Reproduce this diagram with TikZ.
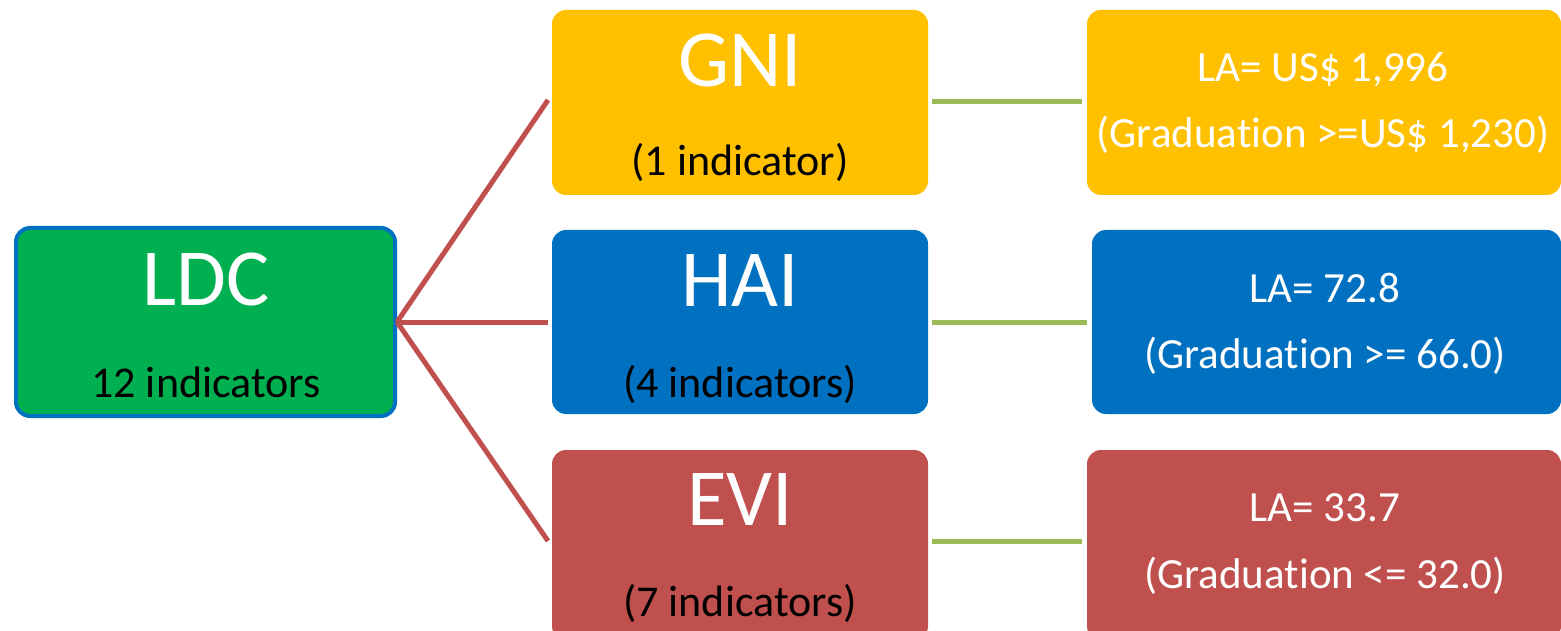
\documentclass[tikz,border=0pt]{standalone}
\usepackage{fontspec}
\setmainfont{Carlito}[Ligatures=NoCommon]
\newcommand{\grad}{Gradua\kern0pt t\kern0pt ion}
\definecolor{cyel}{HTML}{FFC000}
\definecolor{cblu}{HTML}{0070C0}
\definecolor{cred}{HTML}{C0504D}
\definecolor{cgrn}{HTML}{00B050}
\definecolor{cline}{HTML}{9BBB59}
\tikzset{
  box/.style={rounded corners=14pt, inner sep=0pt},
  big/.style={anchor=base, text=white, font=\fontsize{81}{90}\selectfont, inner sep=0pt},
  small/.style={anchor=base, text=black, font=\fontsize{44}{50}\selectfont, inner sep=0pt},
  val/.style={anchor=base, text=white, font=\fontsize{43}{50}\selectfont, inner sep=0pt},
  redline/.style={draw=cred, line width=5pt},
  grnline/.style={draw=cline, line width=5pt},
}
\begin{document}
\begin{tikzpicture}[x=1pt,y=-1pt]
\useasboundingbox (0,0) rectangle (1561,631);
\clip (0,0) rectangle (1561,631);
% boxes
\node[box, fill=cgrn, draw=cblu, line width=4pt, minimum width=379pt, minimum height=188pt] (ldc) at (205.5,322) {};
\node[box, fill=cyel, minimum width=376pt, minimum height=185pt] (gni) at (740,102.5) {};
\node[box, fill=cblu, minimum width=376pt, minimum height=184pt] (hai) at (740,322) {};
\node[box, fill=cred, minimum width=376pt, minimum height=190pt] (evi) at (740,545) {};
\node[box, fill=cyel, minimum width=474pt, minimum height=185pt] (gniv) at (1324,102.5) {};
\node[box, fill=cblu, minimum width=469pt, minimum height=184pt] (haiv) at (1326.5,322) {};
\node[box, fill=cred, minimum width=474pt, minimum height=190pt] (eviv) at (1324,545) {};
% connectors
\coordinate (c0) at (ldc.east);
\coordinate (g1) at (548,100);
\coordinate (h1) at (548,322);
\coordinate (e1) at (548,541);
\draw[redline] (c0) -- (g1);
\draw[redline] (c0) -- (h1);
\draw[redline] (c0) -- (e1);
\coordinate (ga) at (932,102); \coordinate (gb) at (1082,102);
\coordinate (ha) at (932,322); \coordinate (hb) at (1087,322);
\coordinate (ea) at (932,541); \coordinate (eb) at (1082,541);
\draw[grnline] (ga) -- (gb);
\draw[grnline] (ha) -- (hb);
\draw[grnline] (ea) -- (eb);
% texts
\node[big] (tldc) at (206,305) {LDC};
\node[small] (sldc) at (206,397) {12 indicators};
\node[big] (tgni) at (740,87) {GNI};
\node[small] (sgni) at (740,176) {(1 indicator)};
\node[big] (thai) at (740,306) {HAI};
\node[small] (shai) at (740,397) {(4 indicators)};
\node[big] (tevi) at (740,525) {EVI};
\node[small] (sevi) at (740,616) {(7 indicators)};
\node[val] (v1a) at (1323,82) {LA= US\$ 1,996};
\node[val] (v1b) at (1323,148) {(\grad{} >=US\$ 1,230)};
\node[val] (v2a) at (1325,302) {LA= 72.8};
\node[val] (v2b) at (1325,368) {(\grad{} >= 66.0)};
\node[val] (v3a) at (1325,521) {LA= 33.7};
\node[val] (v3b) at (1325,588) {(\grad{} <= 32.0)};
\end{tikzpicture}
\end{document}
